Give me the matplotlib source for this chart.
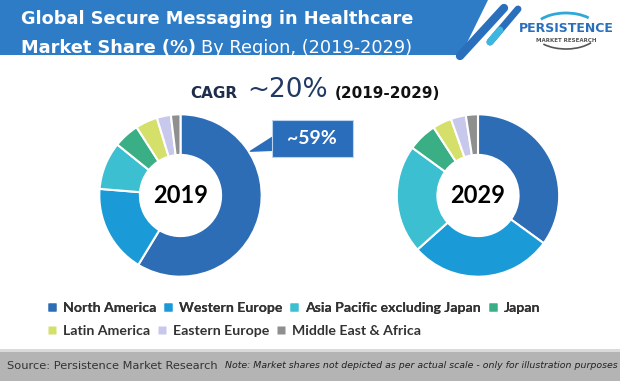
import matplotlib.pyplot as plt
from matplotlib.patches import Polygon, Rectangle, Arc
from matplotlib.lines import Line2D

regions = ['North America', 'Western Europe', 'Asia Pacific excluding Japan', 'Japan',
           'Latin America', 'Eastern Europe', 'Middle East & Africa']
share_2019 = [58.7, 17.6, 9.5, 5.1, 4.4, 2.8, 1.9]
share_2029 = [35.0, 28.4, 21.6, 5.8, 3.8, 3.0, 2.4]
colors = ['#2d6db5', '#1b9ad8', '#3bbfd1', '#3aae84', '#d5e06a', '#c8c8ec', '#8f8f8f']

W, H = 620, 381
fig = plt.figure(figsize=(W / 100, H / 100), dpi=100)
fig.patch.set_facecolor('white')

# background axes in pixel coordinates for decoration
bg = fig.add_axes([0, 0, 1, 1])
bg.set_xlim(0, W)
bg.set_ylim(H, 0)
bg.axis('off')

# header banner and stripes
bg.add_patch(Polygon([(0, 0), (488, 0), (461, 55), (0, 55)], closed=True,
                     facecolor='#2f7cc6', edgecolor='none'))
bg.plot([504, 460], [8, 56], color='#2a6fbb', lw=6, solid_capstyle='round')
bg.plot([518, 490], [9, 42], color='#2a6fbb', lw=5, solid_capstyle='round')
bg.plot([500, 490], [30, 42], color='#3cb8e0', lw=5, solid_capstyle='round')

renderer = fig.canvas.get_renderer()
bg.text(21, 19, 'Global Secure Messaging in Healthcare', color='white',
        fontsize=12.8, fontweight='bold', family='DejaVu Sans', va='center')
t = bg.text(21, 48, 'Market Share (%)', color='white', fontsize=12.8,
            fontweight='bold', family='DejaVu Sans', va='center')
ext = t.get_window_extent(renderer)
bg.text(ext.x1 + 5, 48, 'By Region, (2019-2029)', color='white', fontsize=12.8,
        family='DejaVu Sans', va='center')

# logo
bg.add_patch(Arc((566, 31), 66, 36, theta1=25, theta2=150, color='#555555', lw=1.2))
bg.add_patch(Arc((566, 31), 66, 36, theta1=205, theta2=330, color='#2fa8d8', lw=2))
bg.text(566, 29, 'PERSISTENCE', color='#2a6fbb', fontsize=9, fontweight='bold',
        family='Liberation Sans Narrow', ha='center', va='center')
bg.text(566, 40, 'MARKET RESEARCH', color='#555555', fontsize=4, fontweight='bold',
        family='DejaVu Sans', ha='center', va='center')

# CAGR line
bg.text(190, 94, 'CAGR', color='#1f2d4d', fontsize=11, fontweight='bold',
        family='DejaVu Sans', va='center')
bg.text(247, 90, '~20%', color='#1f3a66', fontsize=19, family='DejaVu Sans',
        va='center')
bg.text(335, 94, '(2019-2029)', color='#111111', fontsize=11, fontweight='bold',
        family='DejaVu Sans', va='center')

# callout
bg.add_patch(Polygon([(273, 136), (273, 151), (248, 152)], closed=True,
                     facecolor='#2a6dbb', edgecolor='none'))
bg.add_patch(Rectangle((272, 120), 81, 37, facecolor='#2a6dbb', edgecolor='#bcd4ee', lw=0.8))
bg.text(312, 139, '~59%', color='white', fontsize=14, fontweight='bold',
        family='Lato', ha='center', va='center')

# footer band
bg.add_patch(Rectangle((0, 352), W, 29, facecolor='#b4b4b4', edgecolor='none'))
bg.add_patch(Rectangle((0, 349), W, 3, facecolor='#dadada', edgecolor='none'))
bg.text(7, 366, 'Source: Persistence Market Research', color='#333333', fontsize=8.2,
        family='DejaVu Sans', va='center')
bg.text(618, 366, 'Note: Market shares not depicted as per actual scale - only for illustration purposes',
        color='#222222', fontsize=6.75, style='italic', family='DejaVu Sans',
        ha='right', va='center')


def donut(cx, cy, r, values, label):
    ax = fig.add_axes([(cx - r) / W, (H - cy - r) / H, 2 * r / W, 2 * r / H])
    wedges, _ = ax.pie(values, colors=colors, startangle=90, counterclock=False,
                       radius=1, wedgeprops=dict(width=0.5, edgecolor='white', linewidth=1.5))
    ax.set_xlim(-1.01, 1.01)
    ax.set_ylim(-1.01, 1.01)
    ax.set_aspect('equal')
    ax.text(0, 0, label, ha='center', va='center', fontsize=17, fontweight='bold',
            family='Lato', color='black')
    return wedges


donut(180.5, 195.5, 82, share_2019, '2019')
donut(478, 195.5, 82, share_2029, '2029')

# legend rows
handles = [Line2D([], [], marker='s', linestyle='none', markersize=6,
                  markerfacecolor=c, markeredgecolor='none') for c in colors]
leg_kw = dict(frameon=False, handlelength=0.7, handletextpad=0.45, columnspacing=0.45,
              prop=dict(family='Lato', weight='bold', size=10.2), labelcolor='#333333',
              borderaxespad=0, borderpad=0)
leg1 = fig.legend(handles[:4], regions[:4], ncol=4, loc='center left',
                  bbox_to_anchor=(47 / W, 1 - 308 / H), **leg_kw)
fig.add_artist(leg1)
fig.legend(handles[4:], regions[4:], ncol=3, loc='center left',
           bbox_to_anchor=(47 / W, 1 - 331 / H), **leg_kw)

fig.savefig('out.png', dpi=100)
